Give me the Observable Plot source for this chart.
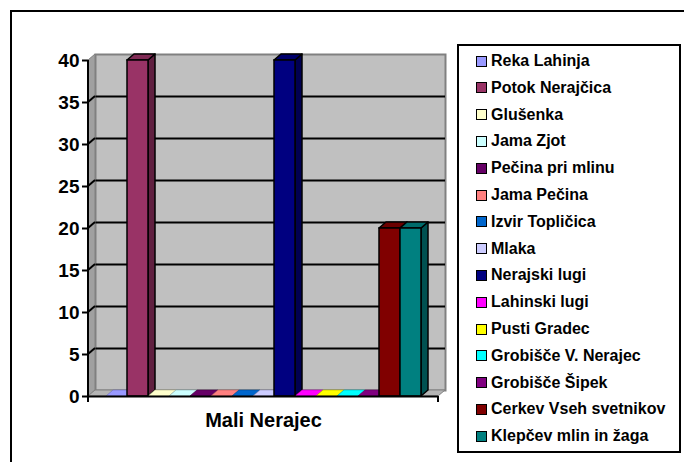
<!DOCTYPE html>
<html>
<head>
<meta charset="utf-8">
<script src="https://cdn.jsdelivr.net/npm/d3@7"></script>
<script src="https://cdn.jsdelivr.net/npm/@observablehq/plot@0.6"></script>
<style>
  html, body { margin: 0; padding: 0; background: #fff; }
  #wrap { position: relative; width: 684px; height: 462px; overflow: hidden; font-family: "Liberation Sans", Arial, sans-serif; }
  #outer { position: absolute; left: 10px; top: 10px; width: 700px; height: 500px; border: 2px solid #000; box-sizing: border-box; }
  #chart { position: absolute; left: 0; top: 0; }
  #legend { position: absolute; left: 457px; top: 44px; width: 224px; height: 409px; border: 2px solid #000; box-sizing: border-box; background: #fff; }
  .item { position: absolute; left: 0; height: 20px; display: flex; align-items: center; font-weight: bold; font-size: 16px; color: #000; white-space: nowrap; }
  .sw { width: 9px; height: 9px; border: 1.5px solid #000; margin-left: 17px; margin-right: 4px; }
</style>
</head>
<body>
<div id="wrap">
  <div id="outer"></div>
  <div id="chart"></div>
  <div id="legend"></div>
</div>
<script>
const categories = ["Mali Nerajec"];
const series = ["Reka Lahinja", "Potok Nerajčica", "Glušenka", "Jama Zjot", "Pečina pri mlinu", "Jama Pečina", "Izvir Topličica", "Mlaka", "Nerajski lugi", "Lahinski lugi", "Pusti Gradec", "Grobišče V. Nerajec", "Grobišče Šipek", "Cerkev Vseh svetnikov", "Klepčev mlin in žaga"];
const values = [0, 40, 0, 0, 0, 0, 0, 0, 40, 0, 0, 0, 0, 20, 20];
const colors = ["#9999FF", "#993366", "#FFFFCC", "#CCFFFF", "#660066", "#FF8080", "#0066CC", "#CCCCFF", "#000080", "#FF00FF", "#FFFF00", "#00FFFF", "#800080", "#800000", "#008080"];
const yTicks = [0, 5, 10, 15, 20, 25, 30, 35, 40];

const data = series.map((s, i) => ({category: categories[0], series: s, value: values[i], color: colors[i]}));
const DX = 7, DY = -6;

// left side wall, floor, and diagonal grid segments
function decor(index, scales, values_, dims) {
  const y = scales.y;
  const L = dims.marginLeft, R = dims.width - dims.marginRight;
  const T = y(40), B = y(0);
  const g = d3.create("svg:g");
  g.append("path")
    .attr("d", `M${L},${T}L${L+DX},${T+DY}L${L+DX},${B+DY}L${L},${B}Z`)
    .attr("fill", "#a0a0a0").attr("stroke", "#808080").attr("stroke-width", 1);
  g.append("path")
    .attr("d", `M${L},${B}L${L+DX},${B+DY}L${R+DX},${B+DY}L${R},${B}Z`)
    .attr("fill", "#b4b4b4").attr("stroke", "#808080").attr("stroke-width", 1);
  for (const v of yTicks) {
    if (v === 0 || v === 40) continue;
    g.append("line").attr("x1", L).attr("y1", y(v)).attr("x2", L + DX).attr("y2", y(v) + DY)
      .attr("stroke", "#000").attr("stroke-width", 2);
  }
  return g.node();
}

// 3D side and top faces of each column
function faces(index, scales, values_, dims) {
  const x = scales.x, y = scales.y;
  const bw = x.bandwidth ? x.bandwidth() : (scales.scales && scales.scales.x.bandwidth);
  const g = d3.create("svg:g");
  const y0 = y(0);
  data.forEach(d => {
    if (d.value <= 0) return;
    const x2 = x(d.series) + bw, yv = y(d.value);
    g.append("path")
      .attr("d", `M${x2},${yv}L${x2+DX},${yv+DY}L${x2+DX},${y0+DY}L${x2},${y0}Z`)
      .attr("fill", d3.color(d.color).darker(1.3).formatHex())
      .attr("stroke", "#000").attr("stroke-width", 1.5).attr("stroke-linejoin", "round");
  });
  data.forEach(d => {
    const x1 = x(d.series), x2 = x1 + bw, yv = y(d.value);
    const zero = d.value <= 0;
    g.append("path")
      .attr("d", `M${x1},${yv}L${x1+DX},${yv+DY}L${x2+DX},${yv+DY}L${x2},${yv}Z`)
      .attr("fill", zero ? d.color : d3.color(d.color).darker(0.5).formatHex())
      .attr("stroke", zero ? d3.color(d.color).darker(1).formatHex() : "#000")
      .attr("stroke-width", zero ? 0.6 : 1.5).attr("stroke-linejoin", "round");
  });
  return g.node();
}

// axis lines
function axes(index, scales, values_, dims) {
  const y = scales.y;
  const L = dims.marginLeft, R = dims.width - dims.marginRight;
  const g = d3.create("svg:g").attr("stroke", "#000").attr("stroke-width", 2);
  g.append("line").attr("x1", L).attr("x2", L).attr("y1", y(40)).attr("y2", y(0) + 6);
  g.append("line").attr("x1", R).attr("x2", R).attr("y1", y(0)).attr("y2", y(0) + 6);
  return g.node();
}

const chart = Plot.plot({
  width: 684,
  height: 462,
  marginLeft: 88,
  marginRight: 246,
  marginTop: 60,
  marginBottom: 66,
  style: {fontFamily: "'Liberation Sans', Arial, sans-serif", background: "transparent", overflow: "visible"},
  x: {type: "band", domain: series, paddingInner: 0, paddingOuter: 0.7, axis: null},
  y: {domain: [0, 40], ticks: yTicks, axis: null},
  marks: [
    Plot.frame({fill: "#c0c0c0", stroke: "#808080", strokeWidth: 2, dx: DX, dy: DY}),
    Plot.ruleY(yTicks.filter(v => v > 0 && v < 40), {stroke: "#000", strokeWidth: 2, dx: DX, dy: DY}),
    decor,
    faces,
    Plot.barY(data, {x: "series", y: "value", fill: "color", stroke: "#000", strokeWidth: 1.5, filter: d => d.value > 0}),
    Plot.ruleY([0], {stroke: "#000", strokeWidth: 2}),
    axes,
    Plot.axisY(yTicks, {tickSize: 6, tickPadding: 3, fontSize: 19, fontWeight: "bold", strokeWidth: 2, stroke: "#000", color: "#000", label: null}),
    Plot.text(categories, {frameAnchor: "bottom", text: d => d, dy: 24, lineAnchor: "middle", fontSize: 20, fontWeight: "bold", fill: "#000"})
  ]
});
document.getElementById("chart").appendChild(chart);

const legend = document.getElementById("legend");
series.forEach((s, i) => {
  const item = document.createElement("div");
  item.className = "item";
  item.style.top = (5 + 26.8 * i) + "px";
  const sw = document.createElement("span");
  sw.className = "sw";
  sw.style.background = colors[i];
  item.appendChild(sw);
  item.appendChild(document.createTextNode(s));
  legend.appendChild(item);
});
</script>
</body>
</html>
